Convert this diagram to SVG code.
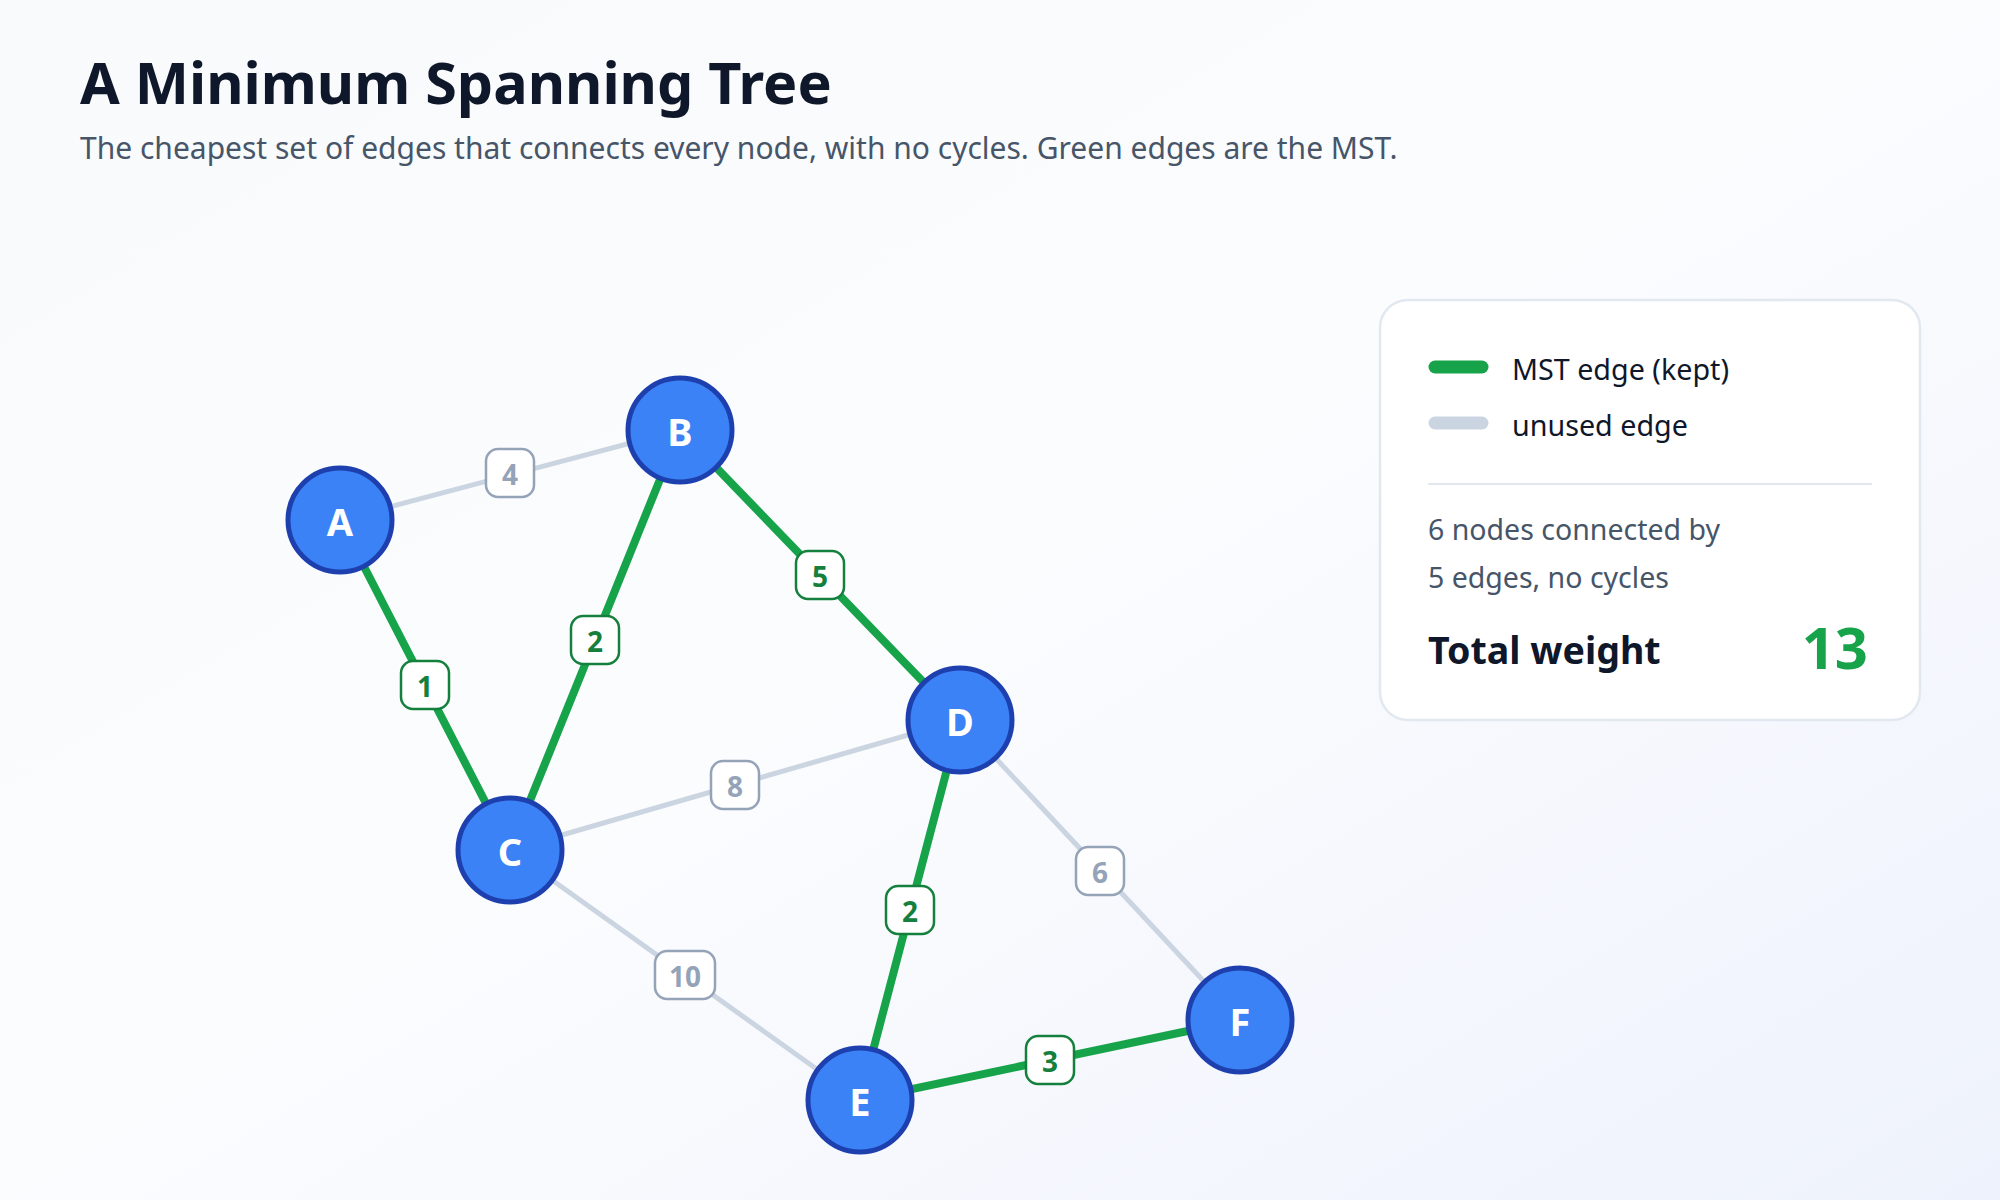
<svg xmlns="http://www.w3.org/2000/svg" width="2000" height="1200" viewBox="0 0 2000 1200">
<defs>
<linearGradient id="bg" x1="0" y1="0" x2="1" y2="1">
<stop offset="0" stop-color="#f8fafc"/>
<stop offset="0.5" stop-color="#fbfcfe"/>
<stop offset="1" stop-color="#eef2fc"/>
</linearGradient>
<style>
text{font-family:"Noto Sans","Open Sans","Liberation Sans",sans-serif}
.title{font-size:57.5px;font-weight:700;fill:#0f172a}
.sub{font-size:30px;fill:#475569}
.mst{stroke:#16a34a;stroke-width:8;stroke-linecap:round}
.unused{stroke:#cbd5e1;stroke-width:5;stroke-linecap:round}
.lbox-g{fill:#ffffff;stroke:#15803d;stroke-width:2.5}
.lbox-u{fill:#ffffff;stroke:#94a3b8;stroke-width:2.5}
.ltxt-g{font-size:28px;font-weight:700;fill:#15803d;text-anchor:middle}
.ltxt-u{font-size:28px;font-weight:700;fill:#94a3b8;text-anchor:middle}
.node circle{fill:#3b82f6;stroke:#1e40af;stroke-width:5}
.node text{font-size:38px;font-weight:700;fill:#ffffff;text-anchor:middle}
.leg{font-size:28.7px;fill:#0f172a}
.note{font-size:28.5px;fill:#475569}
</style>
</defs>
<rect width="2000" height="1200" fill="url(#bg)"/>
<text class="title" x="80" y="104">A Minimum Spanning Tree</text>
<text class="sub" x="80" y="159">The cheapest set of edges that connects every node, with no cycles. Green edges are the MST.</text>

<g id="connectors">
<line class="unused" x1="340" y1="520" x2="680" y2="430"/>
<line class="unused" x1="510" y1="850" x2="960" y2="720"/>
<line class="unused" x1="510" y1="850" x2="860" y2="1100"/>
<line class="unused" x1="960" y1="720" x2="1240" y2="1020"/>
<line class="mst" x1="340" y1="520" x2="510" y2="850"/>
<line class="mst" x1="680" y1="430" x2="510" y2="850"/>
<line class="mst" x1="680" y1="430" x2="960" y2="720"/>
<line class="mst" x1="960" y1="720" x2="860" y2="1100"/>
<line class="mst" x1="860" y1="1100" x2="1240" y2="1020"/>
<g id="edge-labels">
<rect class="lbox-u" x="486" y="449" width="48" height="48" rx="12"/><text class="ltxt-u" x="510" y="485">4</text>
<rect class="lbox-g" x="401" y="661" width="48" height="48" rx="12"/><text class="ltxt-g" x="425" y="697">1</text>
<rect class="lbox-g" x="571" y="616" width="48" height="48" rx="12"/><text class="ltxt-g" x="595" y="652">2</text>
<rect class="lbox-g" x="796" y="551" width="48" height="48" rx="12"/><text class="ltxt-g" x="820" y="587">5</text>
<rect class="lbox-u" x="711" y="761" width="48" height="48" rx="12"/><text class="ltxt-u" x="735" y="797">8</text>
<rect class="lbox-g" x="886" y="886" width="48" height="48" rx="12"/><text class="ltxt-g" x="910" y="922">2</text>
<rect class="lbox-u" x="1076" y="847" width="48" height="48" rx="12"/><text class="ltxt-u" x="1100" y="883">6</text>
<rect class="lbox-u" x="655" y="951" width="60" height="48" rx="12"/><text class="ltxt-u" x="685" y="987">10</text>
<rect class="lbox-g" x="1026" y="1036" width="48" height="48" rx="12"/><text class="ltxt-g" x="1050" y="1072">3</text>
</g>
</g>

<g id="node-A" class="node"><circle cx="340" cy="520" r="52"/><text x="340" y="536">A</text></g>
<g id="node-B" class="node"><circle cx="680" cy="430" r="52"/><text x="680" y="446">B</text></g>
<g id="node-C" class="node"><circle cx="510" cy="850" r="52"/><text x="510" y="866">C</text></g>
<g id="node-D" class="node"><circle cx="960" cy="720" r="52"/><text x="960" y="736">D</text></g>
<g id="node-E" class="node"><circle cx="860" cy="1100" r="52"/><text x="860" y="1116">E</text></g>
<g id="node-F" class="node"><circle cx="1240" cy="1020" r="52"/><text x="1240" y="1036">F</text></g>

<g id="legend">
<rect x="1380" y="300" width="540" height="420" rx="28" fill="#ffffff" stroke="#e2e8f0" stroke-width="2.5"/>
<line x1="1435" y1="367" x2="1482" y2="367" stroke="#16a34a" stroke-width="13" stroke-linecap="round"/>
<text class="leg" x="1512" y="380">MST edge (kept)</text>
<line x1="1435" y1="423" x2="1482" y2="423" stroke="#cbd5e1" stroke-width="13" stroke-linecap="round"/>
<text class="leg" x="1512" y="436">unused edge</text>
<line x1="1428" y1="484" x2="1872" y2="484" stroke="#e2e8f0" stroke-width="2"/>
<text class="note" x="1428" y="540">6 nodes connected by</text>
<text class="note" x="1428" y="588">5 edges, no cycles</text>
<text x="1428" y="664" font-size="37.6" font-weight="700" fill="#0f172a">Total weight</text>
<text x="1868" y="669" font-size="58" font-weight="700" fill="#16a34a" text-anchor="end">13</text>
</g>
</svg>
